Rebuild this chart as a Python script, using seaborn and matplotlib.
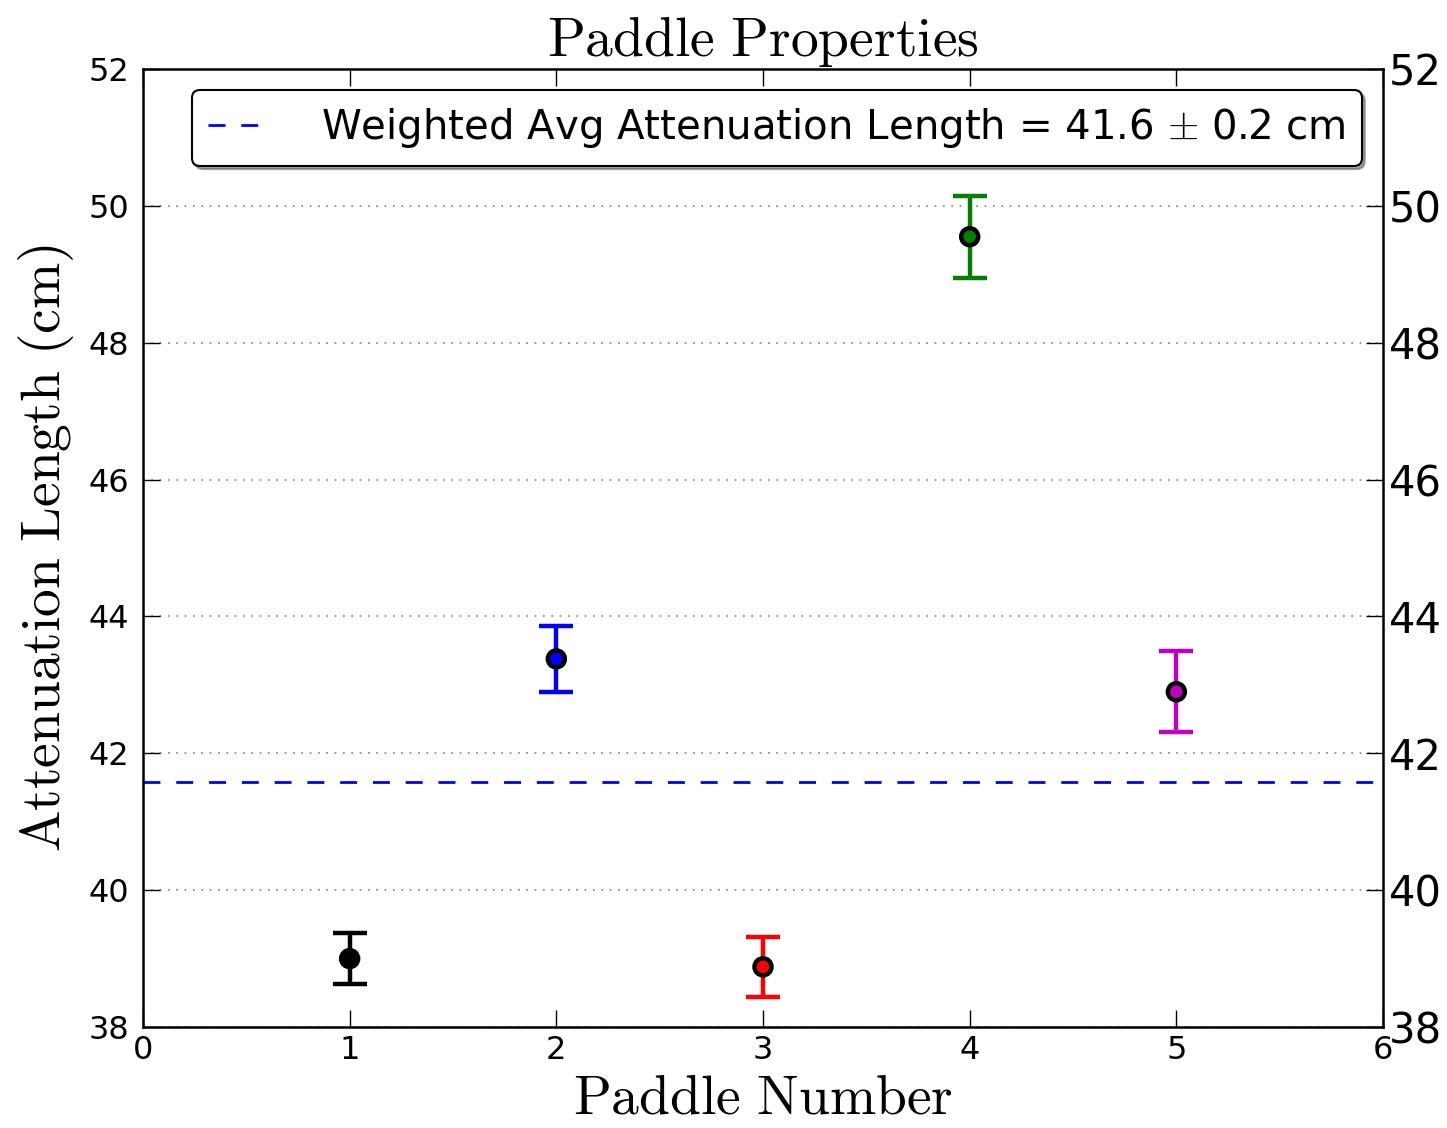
import matplotlib
matplotlib.use("Agg")
import matplotlib.pyplot as plt
import seaborn as sns
import pandas as pd
import numpy as np

paddles = [1, 2, 3, 4, 5]
atten = [39.0, 43.38, 38.88, 49.55, 42.90]
errors = [0.37, 0.48, 0.44, 0.60, 0.59]
colors = ["#000000", "#0000FF", "#FF0000", "#008000", "#BF00BF"]
weighted_avg = 41.58
legend_label = r"Weighted Avg Attenuation Length = 41.6 $\pm$ 0.2 cm"
yticks = [38, 40, 42, 44, 46, 48, 50, 52]
xticks = [0, 1, 2, 3, 4, 5, 6]

sns.set_theme(style="white")
plt.rcParams["font.family"] = ["DejaVu Sans"]
plt.rcParams["mathtext.fontset"] = "cm"
for k in ["text.color", "axes.labelcolor", "xtick.color", "ytick.color"]:
    plt.rcParams[k] = "black"

df = pd.DataFrame({"paddle": paddles, "atten": atten, "err": errors, "color": colors})

fig = plt.figure(figsize=(14.47, 11.28), dpi=100)
ax = fig.add_axes([0.0988, 0.0895, 0.8570, 0.8493])

for _, r in df.iterrows():
    ax.errorbar(r["paddle"], r["atten"], yerr=r["err"], fmt="none", ecolor=r["color"],
                elinewidth=3.2, capsize=12, capthick=3.2, zorder=3)

sns.scatterplot(data=df, x="paddle", y="atten", hue="color",
                palette={c: c for c in colors}, s=150, edgecolor="black",
                linewidth=3.2, legend=False, ax=ax, zorder=4)

avg_line = ax.axhline(weighted_avg, color="blue", lw=2, dashes=(6.1, 5.7),
                      label=legend_label, zorder=2)

ax.set_xlim(0, 6)
ax.set_ylim(38, 52)
ax.set_xticks(xticks)
ax.set_yticks(yticks)
ax.yaxis.grid(True, linestyle=(0, (1, 4)), color="gray", lw=1.2)
ax.xaxis.grid(False)
for s in ax.spines.values():
    s.set_color("black")
    s.set_linewidth(1.8)
ax.tick_params(axis="both", direction="in", length=12, width=1, color="black",
               labelsize=23, top=True, bottom=True, left=True, right=False, pad=6)
ax.tick_params(axis="y", pad=10)

ax.set_title(r"$\mathrm{Paddle\ Properties}$", fontsize=40, pad=9)
ax.set_xlabel(r"$\mathrm{Paddle\ Number}$", fontsize=40, labelpad=4)
ax.set_ylabel(r"$\mathrm{Attenuation\ Length\ (cm)}$", fontsize=40, labelpad=9)

ax2 = ax.twinx()
ax2.set_ylim(38, 52)
ax2.set_yticks(yticks)
ax2.tick_params(axis="y", direction="in", length=12, width=1, labelsize=30, pad=4)
ax2.grid(False)
for s in ax2.spines.values():
    s.set_visible(False)

leg = ax.legend(handles=[avg_line], loc="upper right", bbox_to_anchor=(0.983, 0.978),
                borderaxespad=0, fontsize=29, frameon=True, fancybox=True, shadow=True,
                handlelength=1.4, handletextpad=1.4, borderpad=0.4)
leg.get_frame().set_edgecolor("black")
leg.get_frame().set_linewidth(1.5)

fig.savefig("out.png", dpi=100)
